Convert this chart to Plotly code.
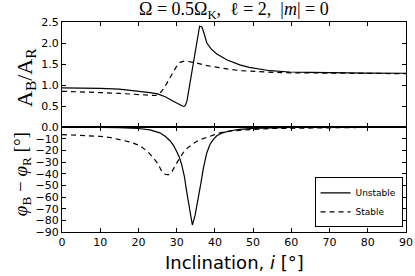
import plotly.graph_objects as go

# ---- data ----
inc_amp_unstable = [0, 5, 10, 15, 20, 23, 25, 27, 29, 30.5, 31.5, 31.9, 32.3, 32.7, 33.2, 33.8, 34.4, 35.0, 35.6, 36.0, 36.6, 37.0, 37.9, 39.0, 40.5, 43.1, 46.5, 49, 54.4, 59.6, 65, 70, 80, 90]
amp_unstable = [0.93, 0.93, 0.92, 0.90, 0.86, 0.82, 0.79, 0.72, 0.62, 0.54, 0.50, 0.49, 0.52, 0.62, 0.88, 1.22, 1.55, 1.88, 2.20, 2.40, 2.38, 2.28, 2.00, 1.86, 1.74, 1.60, 1.48, 1.42, 1.34, 1.31, 1.30, 1.29, 1.285, 1.28]

inc_amp_stable = [0, 5, 10, 15, 20, 23, 24.5, 25.5, 26.5, 27.5, 28.7, 29.8, 30.9, 32, 33, 35, 38, 41, 44, 47, 50, 55, 60, 70, 80, 90]
amp_stable = [0.85, 0.84, 0.82, 0.80, 0.77, 0.75, 0.75, 0.79, 0.90, 1.05, 1.24, 1.42, 1.54, 1.57, 1.56, 1.53, 1.46, 1.41, 1.37, 1.34, 1.32, 1.30, 1.29, 1.28, 1.27, 1.27]

inc_ph_unstable = [0, 10, 15, 20, 23, 25.6, 27, 28.3, 29.2, 30, 30.7, 31.3, 32, 32.6, 33.3, 34.1, 34.8, 35.7, 36.4, 37, 37.9, 38.7, 39.5, 40.5, 42, 44, 46.5, 50, 55, 60, 70, 90]
ph_unstable = [0, -0.2, -0.5, -1.3, -2.5, -5, -8, -12, -16, -21, -26, -32, -42, -55, -70, -84, -76, -61, -47, -35, -22, -15, -11, -7.5, -5, -3.2, -2, -1.2, -0.7, -0.4, -0.2, 0]

inc_ph_stable = [0, 5, 10, 12.6, 15, 18, 20.4, 21.2, 22.5, 23.9, 25, 26.1, 27, 27.8, 28.8, 30, 31, 31.7, 33, 34.4, 36, 37.9, 39.5, 41.3, 44, 47, 50, 55, 60, 70, 80, 90]
ph_stable = [-6.5, -7, -8, -9, -10.5, -13, -16, -18, -21.5, -26.5, -31, -38, -40.5, -41, -38, -31, -26, -22, -17.5, -14, -11, -9, -7, -5, -3.5, -2.5, -2, -1.3, -1, -0.6, -0.3, 0]

amp_ticks = [0.0, 0.5, 1.0, 1.5, 2.0, 2.5]
ph_ticks = [-90, -80, -70, -60, -50, -40, -30, -20, -10]
x_ticks = [0, 10, 20, 30, 40, 50, 60, 70, 80, 90]

# ---- figure ----
fig = go.Figure()
line_u = dict(color="black", width=1.2)
line_s = dict(color="black", width=1.2, dash="5px,4px")

fig.add_trace(go.Scatter(x=inc_amp_unstable, y=amp_unstable, mode="lines", line=line_u,
                         name="Unstable", xaxis="x", yaxis="y", showlegend=True))
fig.add_trace(go.Scatter(x=inc_amp_stable, y=amp_stable, mode="lines", line=line_s,
                         name="Stable", xaxis="x", yaxis="y", showlegend=True))
fig.add_trace(go.Scatter(x=inc_ph_unstable, y=ph_unstable, mode="lines", line=line_u,
                         name="Unstable", xaxis="x2", yaxis="y2", showlegend=False))
fig.add_trace(go.Scatter(x=inc_ph_stable, y=ph_stable, mode="lines", line=line_s,
                         name="Stable", xaxis="x2", yaxis="y2", showlegend=False))

tickfont = dict(family="DejaVu Sans", size=11, color="black")
common_axis = dict(showline=True, linecolor="black", linewidth=1, mirror="allticks",
                   ticks="inside", ticklen=4, tickcolor="black", tickwidth=1,
                   showgrid=False, zeroline=False, tickfont=tickfont, automargin=False)

fig.update_layout(
    width=415, height=276,
    margin=dict(l=62, r=9, t=22, b=44, autoexpand=False),
    plot_bgcolor="white", paper_bgcolor="white",
    xaxis=dict(domain=[0, 1], range=[0, 90], tickvals=x_ticks, showticklabels=False,
               anchor="y", **common_axis),
    yaxis=dict(domain=[0.5, 1], range=[0, 2.5], tickvals=amp_ticks, tickformat=".1f",
               anchor="x", **common_axis),
    xaxis2=dict(domain=[0, 1], range=[0, 90], tickvals=x_ticks, anchor="y2",
                matches="x", **common_axis),
    yaxis2=dict(domain=[0, 0.5], range=[-90, 0], tickvals=ph_ticks, anchor="x2",
                **common_axis),
    legend=dict(x=0.99, y=0.022, xanchor="right", yanchor="bottom",
                bgcolor="white", bordercolor="black", borderwidth=1,
                font=dict(family="DejaVu Sans", size=9, color="black"),
                tracegroupgap=0, itemwidth=30),
    showlegend=True,
)

annotations = [
    dict(text="Ω = 0.5Ω<sub>K</sub>,  ℓ = 2,  |<i>m</i>| = 0", x=0.5, y=1.0, xref="paper", yref="paper",
         xanchor="center", yanchor="middle", yshift=12, showarrow=False,
         font=dict(family="Liberation Serif", size=18, color="black")),
    dict(text="A<sub>B</sub>/A<sub>R</sub>", x=-0.105, y=0.738, xref="paper", yref="paper",
         xanchor="center", yanchor="middle", textangle=-90, showarrow=False,
         font=dict(family="Liberation Serif", size=22, color="black")),
    dict(text="<i>φ</i><sub>B</sub> − <i>φ</i><sub>R</sub> [°]", x=-0.116, y=0.276, xref="paper", yref="paper",
         xanchor="center", yanchor="middle", textangle=-90, showarrow=False,
         font=dict(family="Liberation Serif", size=19, color="black")),
    dict(text="Inclination, <i>i</i> [°]", x=0.5, y=-0.085, xref="paper", yref="paper",
         xanchor="center", yanchor="top", showarrow=False,
         font=dict(family="DejaVu Sans", size=18, color="black")),
]
fig.update_layout(annotations=annotations)

fig.write_html("out.html", config={"displayModeBar": False},
               post_script="document.body.style.margin='0px';")
